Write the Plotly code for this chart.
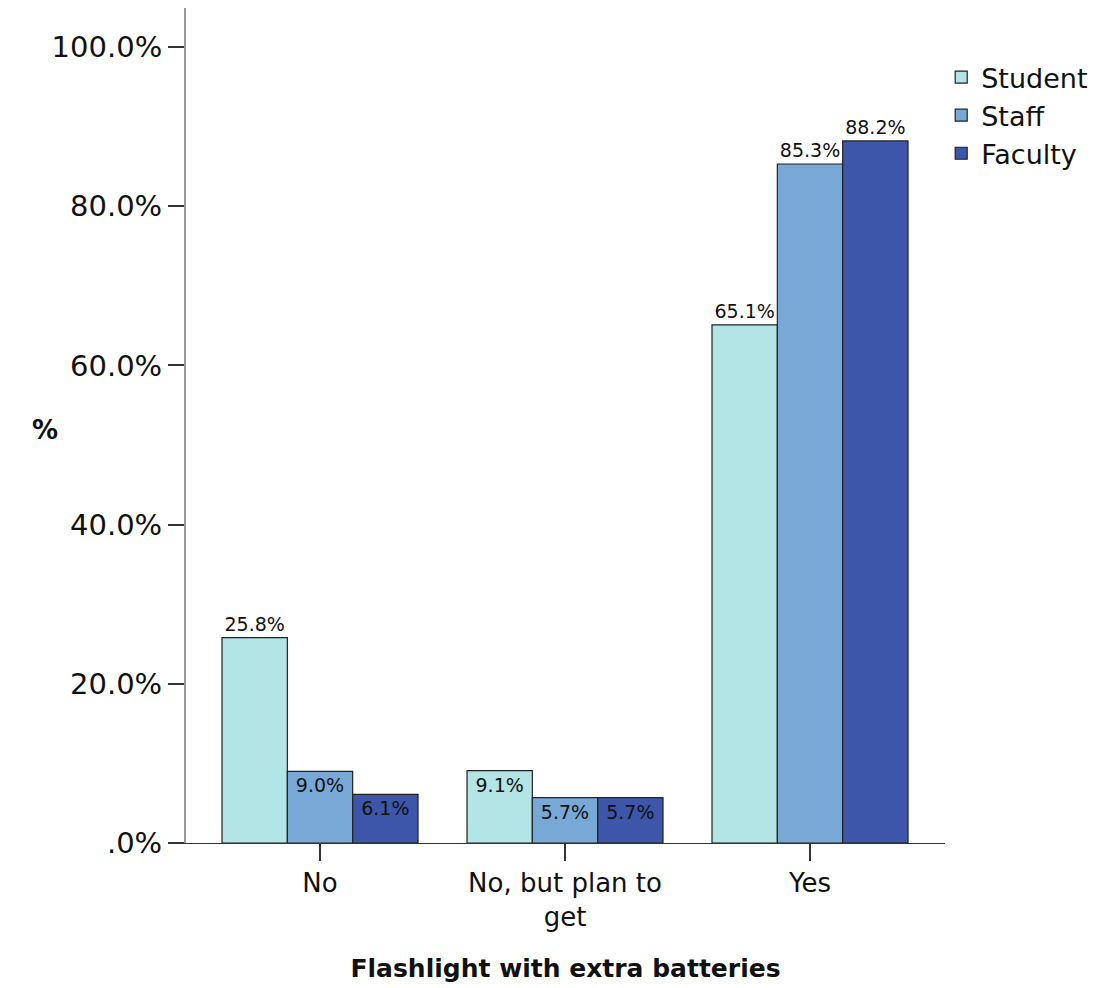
import plotly.graph_objects as go

categories = ["No", "No, but plan to<br>get", "Yes"]
series_names = ["Student", "Staff", "Faculty"]
student = [25.8, 9.1, 65.1]
staff = [9.0, 5.7, 85.3]
faculty = [6.1, 5.7, 88.2]
colors = ["#b3e5e6", "#78a9d6", "#3d56aa"]
tick_vals = [0, 20, 40, 60, 80, 100]
tick_text = [".0%", "20.0%", "40.0%", "60.0%", "80.0%", "100.0%"]

FONT = "DejaVu Sans"
values = [student, staff, faculty]

# page body has an 8px margin; figure is sized/positioned accordingly
W, H = 1108, 980
L, T, R, B = 178, 0, 171, 145
PW, PH = W - L - R, H - T - B

fig = go.Figure()
for name, vals, col in zip(series_names, values, colors):
    pos = ["outside" if v > 20 else "inside" for v in vals]
    fig.add_trace(go.Bar(
        x=categories, y=vals, name=name,
        marker=dict(color=col, line=dict(color="#222222", width=1.2)),
        texttemplate="%{y:.1f}%", textposition=pos,
        insidetextanchor="end", textangle=0,
        textfont=dict(family=FONT, size=19, color="#111111"),
        cliponaxis=False,
    ))

fig.update_layout(
    width=W, height=H,
    margin=dict(l=L, r=R, t=T, b=B),
    paper_bgcolor="white", plot_bgcolor="white",
    barmode="group", bargap=0.2, bargroupgap=0,
    font=dict(family=FONT, color="#111111"),
    showlegend=True,
    legend=dict(x=0.995, y=(PH - 45) / PH, xanchor="left", yanchor="top",
                font=dict(family=FONT, size=27, color="#111111"),
                tracegroupgap=0, itemwidth=30),
    xaxis=dict(
        range=[-0.547, 2.551], showline=True, linecolor="#333333", linewidth=1,
        ticks="outside", ticklen=17, tickcolor="#333333", tickwidth=1.5,
        tickfont=dict(family=FONT, size=26, color="#111111"),
        showgrid=False, zeroline=False,
        title=dict(text="<b>Flashlight with extra batteries</b>",
                   font=dict(family=FONT, size=25, color="#111111"), standoff=28),
    ),
    yaxis=dict(
        range=[0, 104.9], showline=True, linecolor="#999999", linewidth=2,
        ticks="outside", ticklen=16, tickcolor="#333333", tickwidth=1.5,
        tickvals=tick_vals, ticktext=tick_text,
        tickfont=dict(family=FONT, size=29, color="#111111"),
        showgrid=False, zeroline=False,
    ),
    annotations=[dict(text="<b>%</b>", x=(22 - L) / PW, y=(PH - 422) / PH,
                      xref="paper", yref="paper", showarrow=False,
                      font=dict(family=FONT, size=26, color="#111111"))],
)

fig.write_html("out.html")
